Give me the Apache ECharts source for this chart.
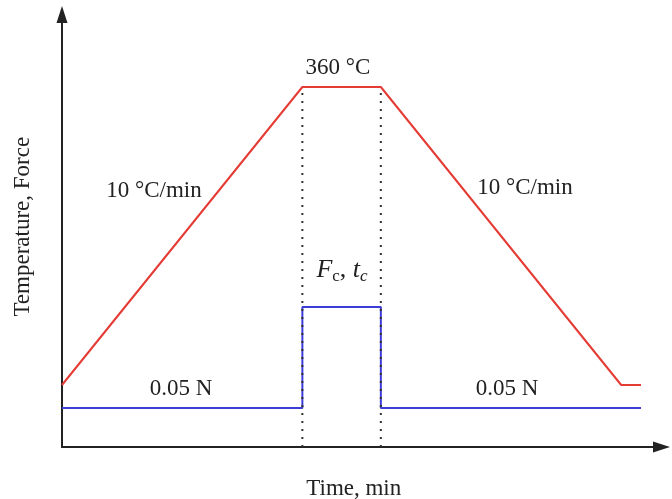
<!DOCTYPE html>
<html>
    <head>
        <meta charset="utf-8">
        <title>Temperature, Force</title>
        <script src="https://cdn.jsdelivr.net/npm/echarts@6/dist/echarts.min.js"></script>
        <style>
            html, body { margin: 0; padding: 0; background: #fff; }
            #chart1 { width: 672px; height: 499px; }
        </style>
    </head>
    <body>
        <div id="chart1"></div>
    </body>
    <script type="text/javascript">
        // 温度曲线 (min, level)
        var tempTime = [0, 34, 45.1, 79.1, 81.9];
        var tempLevel = [62, 360, 360, 62, 62];
        // 力曲线
        var forceTime = [0, 34, 34, 45.1, 45.1, 81.9];
        var forceLevel = [39, 39, 140, 140, 39, 39];

        function pairs(xs, ys) {
            return xs.map(function (x, i) { return [x, ys[i]]; });
        }

        var serif = "'Liberation Serif', 'Times New Roman', serif";
        var txt = '#222';

        var myChart1 = echarts.init(document.getElementById('chart1'));

        function label(x, y, text) {
            return {
                type: 'text',
                x: x, y: y,
                style: {
                    text: text, fill: txt, font: '23px ' + serif,
                    align: 'center', verticalAlign: 'middle'
                }
            };
        }

        var dotStyle = { color: '#333', width: 2, type: [2, 6] };
        var axisLine = {
            show: true, symbol: ['none', 'triangle'], symbolSize: [11, 17],
            lineStyle: { color: '#222', width: 2 }
        };

        myChart1.setOption({
            animation: false,
            backgroundColor: '#fff',
            grid: { left: 62, right: 10.5, top: 14.5, bottom: 52, outerBoundsMode: 'none' },
            xAxis: {
                type: 'value', min: 0, max: 84.8,
                name: 'Time, min', nameLocation: 'middle', nameGap: 30,
                nameTextStyle: { color: txt, fontSize: 23, fontFamily: serif, padding: [0, 16, 0, 0] },
                axisLine: axisLine,
                axisTick: { show: false }, axisLabel: { show: false }, splitLine: { show: false }
            },
            yAxis: {
                type: 'value', min: 0, max: 432.5,
                name: 'Temperature, Force', nameLocation: 'middle', nameGap: 28,
                nameTextStyle: { color: txt, fontSize: 23, fontFamily: serif, padding: [0, 0, 0, 8] },
                axisLine: axisLine,
                axisTick: { show: false }, axisLabel: { show: false }, splitLine: { show: false }
            },
            series: [
                {
                    type: 'line', data: pairs(tempTime, tempLevel), symbol: 'none', z: 3,
                    lineStyle: { color: '#e53b35', width: 2 }
                },
                {
                    type: 'line', data: pairs(forceTime, forceLevel), symbol: 'none', z: 3,
                    lineStyle: { color: '#3c3cd8', width: 2 }
                },
                {
                    type: 'line', data: [[tempTime[1], 0], [tempTime[1], tempLevel[1]]], symbol: 'none', z: 4,
                    lineStyle: dotStyle
                },
                {
                    type: 'line', data: [[tempTime[2], 0], [tempTime[2], tempLevel[2]]], symbol: 'none', z: 4,
                    lineStyle: dotStyle
                }
            ],
            graphic: [
                label(338, 68, '360 °C'),
                label(154, 191, '10 °C/min'),
                label(525, 188, '10 °C/min'),
                label(181, 389, '0.05 N'),
                label(507, 389, '0.05 N'),
                {
                    type: 'text', x: 342, y: 270,
                    style: {
                        text: '{i|F}{s|c}{n|, }{i|t}{si|c}',
                        align: 'center', verticalAlign: 'middle',
                        rich: {
                            i: { fontStyle: 'italic', fontSize: 26, lineHeight: 30, fontFamily: serif, fill: txt, color: txt },
                            n: { fontSize: 26, lineHeight: 30, fontFamily: serif, fill: txt, color: txt },
                            s: { fontSize: 17, lineHeight: 17, fontFamily: serif, verticalAlign: 'bottom', fill: txt, color: txt },
                            si: { fontSize: 17, lineHeight: 17, fontStyle: 'italic', fontFamily: serif, verticalAlign: 'bottom', fill: txt, color: txt }
                        }
                    }
                }
            ]
        });
    </script>
</html>
